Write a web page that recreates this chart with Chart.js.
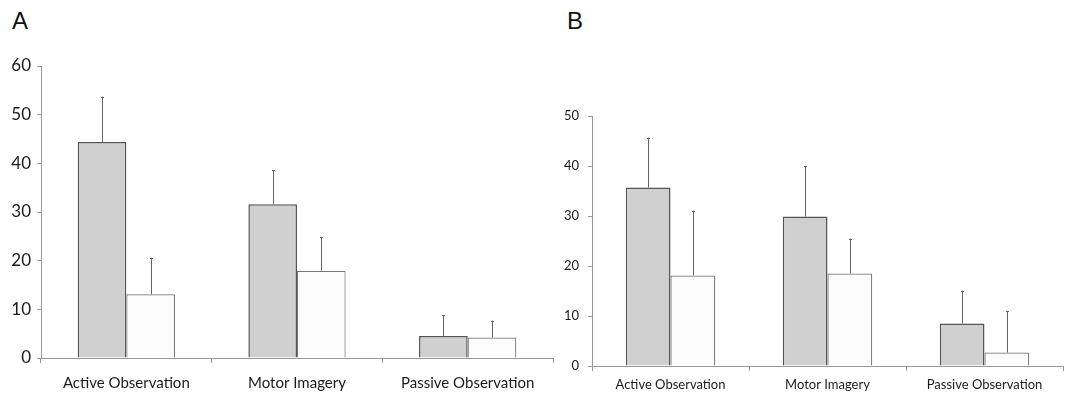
<!DOCTYPE html>
<html>
<head>
<meta charset="utf-8">
<script src="https://cdn.jsdelivr.net/npm/chart.js@4"></script>
<style>
  body { margin: 0; background: #fff; width: 1083px; height: 394px; position: relative; overflow: hidden; }
  .panel { position: absolute; top: 0; }
  .lbl { position: absolute; font-family: "Liberation Sans", Arial, sans-serif; font-size: 24px; color: #111; }
</style>
</head>
<body>
<div class="lbl" style="left:12px;top:7px">A</div>
<div class="lbl" style="left:567px;top:7px">B</div>
<div class="panel" style="left:0"><canvas id="chartA" width="560" height="394"></canvas></div>
<div class="panel" style="left:540px"><canvas id="chartB" width="543" height="394"></canvas></div>
<script>
const categories = ["Active Observation", "Motor Imagery", "Passive Observation"];

// panel A
const aGrey = [44.4, 31.6, 4.5];
const aGreyErr = [9.3, 7.0, 4.3];
const aWhite = [13.1, 17.9, 4.2];
const aWhiteErr = [7.5, 6.9, 3.5];
const aTicks = [0, 10, 20, 30, 40, 50, 60];

// panel B
const bGrey = [35.7, 29.9, 8.5];
const bGreyErr = [10.0, 10.1, 6.6];
const bWhite = [18.1, 18.5, 2.7];
const bWhiteErr = [13.0, 7.0, 8.3];
const bTicks = [0, 10, 20, 30, 40, 50];

// upper error bars only, drawn from the bar top
const errorBars = {
  id: "errorBars",
  afterDatasetsDraw(chart) {
    const ctx = chart.ctx;
    const yScale = chart.scales.y;
    chart.data.datasets.forEach((ds, i) => {
      const meta = chart.getDatasetMeta(i);
      meta.data.forEach((bar, j) => {
        const top = yScale.getPixelForValue(ds.data[j] + ds.errors[j]);
        const x = Math.round(bar.x) + 0.5;
        ctx.save();
        ctx.strokeStyle = "#666";
        ctx.lineWidth = 1;
        ctx.beginPath();
        ctx.moveTo(x, bar.y);
        ctx.lineTo(x, top);
        ctx.moveTo(x - 1.5, Math.round(top) + 0.5);
        ctx.lineTo(x + 1.5, Math.round(top) + 0.5);
        ctx.stroke();
        ctx.restore();
      });
    });
  },
};

function makeChart(id, grey, greyErr, white, whiteErr, ticks, opts) {
  const ctx = document.getElementById(id).getContext("2d");
  return new Chart(ctx, {
    type: "bar",
    data: {
      labels: categories,
      datasets: [
        {
          data: grey,
          errors: greyErr,
          backgroundColor: "#d0d0d0",
          borderColor: "#555",
          borderWidth: 1.5,
        },
        {
          data: white,
          errors: whiteErr,
          backgroundColor: "#fcfcfc",
          borderColor: "#777",
          borderWidth: 1.2,
        },
      ],
    },
    options: {
      responsive: false,
      animation: false,
      layout: { padding: opts.padding },
      plugins: { legend: { display: false }, tooltip: { enabled: false } },
      datasets: { bar: { categoryPercentage: 0.57, barPercentage: 1 } },
      scales: {
        x: {
          grid: { drawOnChartArea: false, tickLength: 5, color: "#999", offset: true },
          border: { color: "#999" },
          ticks: { color: "#1a1a1a", font: { family: "Lato", size: opts.xFont }, padding: opts.xPad },
          afterFit: (s) => { s.height = opts.xHeight; },
        },
        y: {
          min: ticks[0],
          max: ticks[ticks.length - 1],
          afterBuildTicks: (s) => { s.ticks = ticks.map((v) => ({ value: v })); },
          grid: { drawOnChartArea: false, tickLength: 4, color: "#999" },
          border: { color: "#999" },
          ticks: { color: "#1a1a1a", font: { family: "Lato", size: opts.yFont }, padding: opts.yPad },
          afterFit: (s) => { s.width = opts.yWidth; },
        },
      },
    },
    plugins: [errorBars],
  });
}

makeChart("chartA", aGrey, aGreyErr, aWhite, aWhiteErr, aTicks, {
  padding: { left: 0, right: 7, top: 66, bottom: 0 },
  yWidth: 41, xHeight: 36, xFont: 15, yFont: 17, xPad: 11, yPad: 6,
});

makeChart("chartB", bGrey, bGreyErr, bWhite, bWhiteErr, bTicks, {
  padding: { left: 0, right: 20, top: 116, bottom: 0 },
  yWidth: 52, xHeight: 28, xFont: 13, yFont: 13, xPad: 6, yPad: 9,
});
</script>
</body>
</html>
